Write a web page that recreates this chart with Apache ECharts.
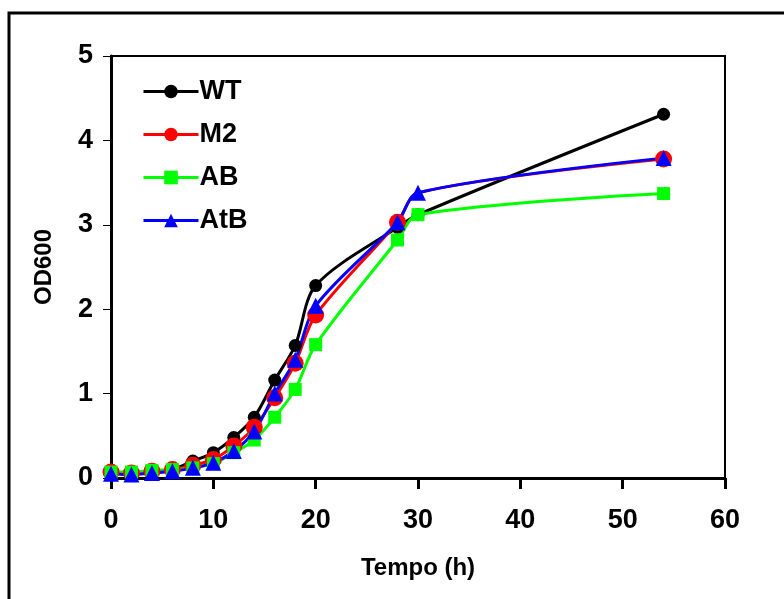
<!DOCTYPE html>
<html>
<head>
<meta charset="utf-8">
<script src="https://cdn.jsdelivr.net/npm/echarts@6/dist/echarts.min.js"></script>
<style>
  html, body { margin: 0; padding: 0; background: #fff; }
  #chart { width: 784px; height: 599px; }
</style>
</head>
<body>
<div id="chart"></div>
<script>
// tempo (h)
var tempo = [0, 2, 4, 6, 8, 10, 12, 14, 16, 18, 20, 28, 30, 54];
var tempoM2 = [0, 2, 4, 6, 8, 10, 12, 14, 16, 18, 20, 28, 30, 54];

// OD600 por estirpe
var wt  = [0.07, 0.06, 0.08, 0.10, 0.20, 0.30, 0.48, 0.72, 1.16, 1.57, 2.28, 2.97, 3.12, 4.31];
var m2  = [0.07, 0.06, 0.08, 0.10, 0.15, 0.22, 0.38, 0.60, 0.95, 1.36, 1.93, 3.03, 3.38, 3.78];
var ab  = [0.07, 0.07, 0.09, 0.10, 0.12, 0.17, 0.30, 0.45, 0.72, 1.05, 1.58, 2.82, 3.12, 3.37];
var atb = [0.05, 0.04, 0.06, 0.08, 0.12, 0.18, 0.32, 0.55, 1.00, 1.40, 2.04, 3.03, 3.38, 3.79];

var names = ['WT', 'M2', 'AB', 'AtB'];

function pares(xs, ys) {
  var out = [];
  for (var i = 0; i < xs.length; i++) {
    out.push([xs[i], ys[i]]);
  }
  return out;
}

// M2 has no marker at 30 h in the original
var m2Data = pares(tempoM2, m2).map(function (p) {
  if (p[0] === 30) return { value: p, symbol: 'none' };
  return p;
});

var chart = echarts.init(document.getElementById('chart'));

var fonte = 'Liberation Sans, Arial, sans-serif';

function serie(nome, cor, simbolo, tamanho, dados) {
  return {
    name: nome,
    type: 'line',
    smooth: 0.3,
    symbol: simbolo,
    symbolSize: tamanho,
    showAllSymbol: true,
    data: dados,
    lineStyle: { color: cor, width: 3 },
    itemStyle: { color: cor, borderWidth: 0 }
  };
}

chart.setOption({
  animation: false,
  graphic: [{
    type: 'rect',
    shape: { x: 9, y: 13, width: 820, height: 640 },
    style: { fill: 'none', stroke: '#000', lineWidth: 3 },
    silent: true
  }],
  grid: {
    left: 111,
    top: 56,
    right: 59,
    bottom: 121,
    show: true,
    borderColor: '#000',
    borderWidth: 2
  },
  legend: {
    orient: 'vertical',
    left: 137,
    top: 73,
    itemWidth: 55,
    itemHeight: 17,
    itemGap: 16,
    data: names,
    lineStyle: { width: 3 },
    textStyle: { fontFamily: fonte, fontWeight: 'bold', fontSize: 27, lineHeight: 27, color: '#000', padding: [0, 0, 0, -4] }
  },
  xAxis: {
    type: 'value',
    min: 0,
    max: 60,
    interval: 10,
    name: 'Tempo (h)',
    nameLocation: 'middle',
    nameGap: 78,
    nameTextStyle: { fontFamily: fonte, fontWeight: 'bold', fontSize: 24, color: '#000' },
    splitLine: { show: false },
    axisLine: { lineStyle: { color: '#000', width: 3 } },
    axisTick: { inside: false, length: 11, lineStyle: { color: '#000', width: 3 } },
    axisLabel: { margin: 29, fontFamily: fonte, fontWeight: 'bold', fontSize: 27, color: '#000' }
  },
  yAxis: {
    type: 'value',
    min: 0,
    max: 5,
    interval: 1,
    name: 'OD600',
    nameLocation: 'middle',
    nameGap: 55,
    nameTextStyle: { fontFamily: fonte, fontWeight: 'bold', fontSize: 24, color: '#000' },
    splitLine: { show: false },
    axisLine: { lineStyle: { color: '#000', width: 3 } },
    axisTick: { inside: false, length: 8, lineStyle: { color: '#000', width: 1 } },
    axisLabel: { margin: 18, fontFamily: fonte, fontWeight: 'bold', fontSize: 27, color: '#000' }
  },
  series: [
    serie('WT', '#000000', 'circle', 13, pares(tempo, wt)),
    serie('M2', '#ff0000', 'circle', 17, m2Data),
    serie('AB', '#00ff00', 'rect', 13, pares(tempo, ab)),
    serie('AtB', '#0000ff', 'triangle', 16, pares(tempo, atb))
  ]
});
</script>
</body>
</html>
